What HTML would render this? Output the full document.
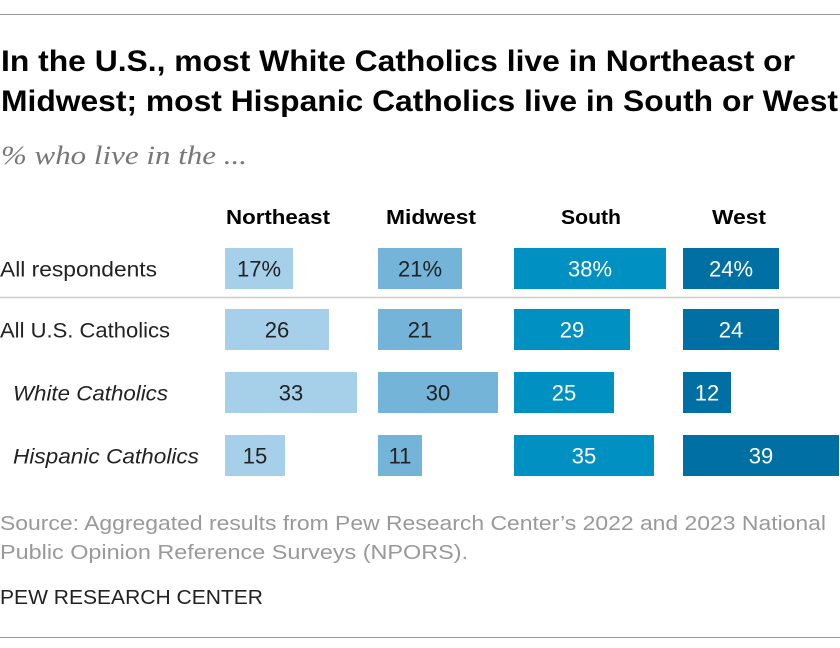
<!DOCTYPE html>
<html><head><meta charset="utf-8"><style>
html,body{margin:0;padding:0;background:#fff;}
svg{display:block;font-family:"Liberation Sans",sans-serif;}
</style></head><body>
<svg id="chart" width="840" height="648" viewBox="0 0 840 648">
<line x1="0" y1="14.5" x2="840" y2="14.5" stroke="#999" stroke-width="1"/>
<text x="1" y="71" font-size="30" font-weight="bold" fill="#000" textLength="794" lengthAdjust="spacingAndGlyphs">In the U.S., most White Catholics live in Northeast or</text>
<text x="1" y="111" font-size="30" font-weight="bold" fill="#000" textLength="837" lengthAdjust="spacingAndGlyphs">Midwest; most Hispanic Catholics live in South or West</text>
<text x="1" y="164" font-size="26" font-style="italic" fill="#777" font-family="Liberation Serif, serif" textLength="246" lengthAdjust="spacingAndGlyphs">% who live in the ...</text>
<g id="headers"></g>
<g id="rows"></g>
<line x1="0" y1="297.5" x2="840" y2="297.5" stroke="#ccc" stroke-width="1.5"/>
<text x="0" y="530" font-size="20" fill="#999" textLength="826" lengthAdjust="spacingAndGlyphs">Source: Aggregated results from Pew Research Center’s 2022 and 2023 National</text>
<text x="0" y="559" font-size="20" fill="#999" textLength="468" lengthAdjust="spacingAndGlyphs">Public Opinion Reference Surveys (NPORS).</text>
<text x="0" y="604" font-size="20" fill="#222" textLength="263" lengthAdjust="spacingAndGlyphs">PEW RESEARCH CENTER</text>
<line x1="0" y1="637.5" x2="840" y2="637.5" stroke="#999" stroke-width="1"/>
</svg>
<script>
const regions = ["Northeast","Midwest","South","West"];
const groups = ["All respondents","All U.S. Catholics","White Catholics","Hispanic Catholics"];
const northeast = [17,26,33,15];
const midwest = [21,21,30,11];
const south = [38,29,25,35];
const west = [24,24,12,39];
const series = [northeast, midwest, south, west];
const colors = ["#a6d0e9","#74b4d8","#0091c2","#006fa3"];
const textColors = ["#222","#222","#fff","#fff"];
const colStart = [225,378,514,683];
const headerX = [226,386,561,712];
const headerW = [104,90,60,54];
const labelW = [157,170,155,186];
const rowY = [248,309,372,435];
const barH = 41;
const ns = "http://www.w3.org/2000/svg";
function xLen(v){ return v*4.0; }
const hg = document.getElementById('headers');
const rg = document.getElementById('rows');
regions.forEach((r,i)=>{
  const t = document.createElementNS(ns,'text');
  t.setAttribute('x', headerX[i]);
  t.setAttribute('y', 224);
  t.setAttribute('font-size','20');
  t.setAttribute('font-weight','bold');
  t.setAttribute('textLength', headerW[i]);
  t.setAttribute('lengthAdjust','spacingAndGlyphs');
  t.textContent = r;
  
  
  hg.appendChild(t);
});
groups.forEach((g,j)=>{
  const t = document.createElementNS(ns,'text');
  const sub = j>=2;
  t.setAttribute('x', sub?13:0);
  t.setAttribute('y', rowY[j]+barH/2+8);
  t.setAttribute('font-size','21');
  if(sub) t.setAttribute('font-style','italic');
  t.setAttribute('fill','#222');
  t.setAttribute('textLength', labelW[j]);
  t.setAttribute('lengthAdjust','spacingAndGlyphs');
  t.textContent = g;
  
  
  rg.appendChild(t);
  series.forEach((s,i)=>{
    const v = s[j];
    const rc = document.createElementNS(ns,'rect');
    rc.setAttribute('x', colStart[i]);
    rc.setAttribute('y', rowY[j]);
    rc.setAttribute('width', xLen(v));
    rc.setAttribute('height', barH);
    rc.setAttribute('fill', colors[i]);
    
    
    rg.appendChild(rc);
    const lt = document.createElementNS(ns,'text');
    lt.setAttribute('x', colStart[i]+xLen(v)/2);
    lt.setAttribute('y', rowY[j]+barH/2+8);
    lt.setAttribute('text-anchor','middle');
    lt.setAttribute('font-size','22');
    lt.setAttribute('fill', textColors[i]);
    lt.textContent = v + (j===0?'%':'');
    
    
    rg.appendChild(lt);
  });
});
</script>
</body></html>
